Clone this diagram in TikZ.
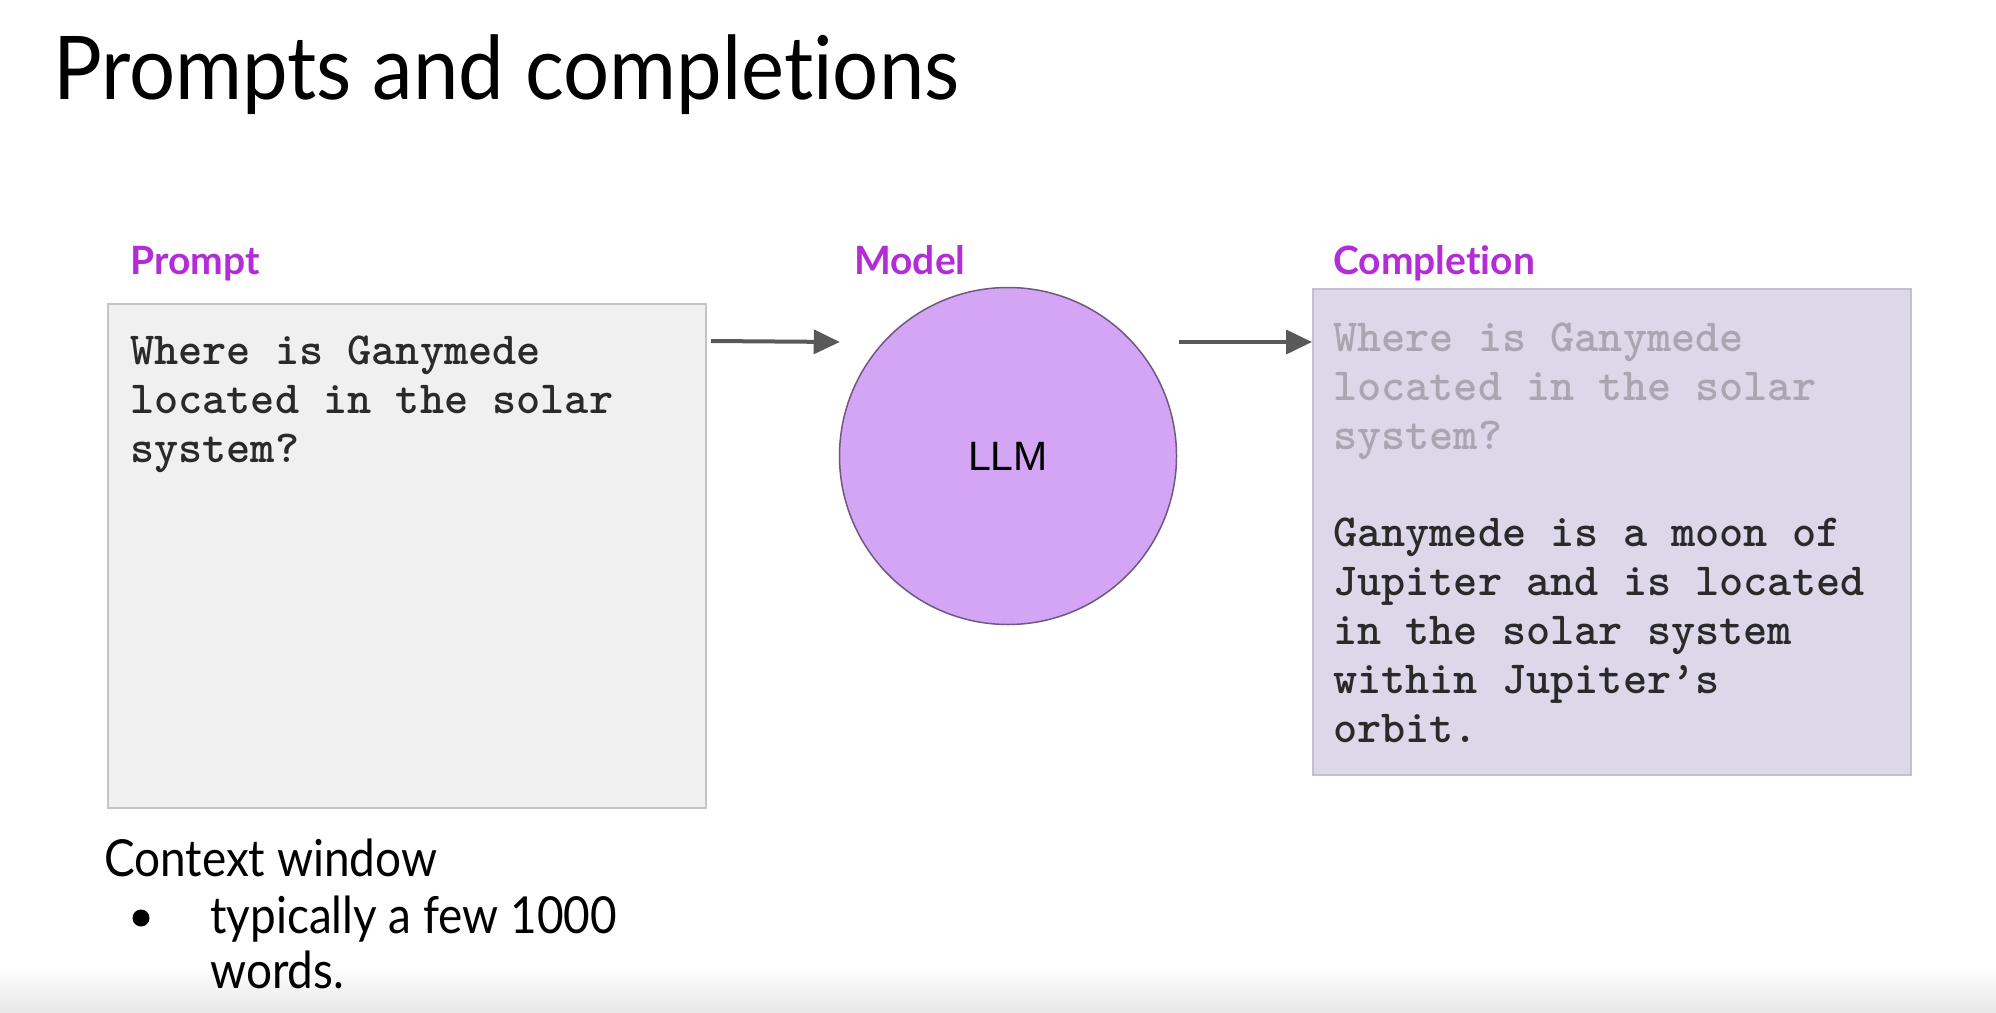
\documentclass[tikz,border=0pt]{standalone}
\usepackage{fontspec}
\setmainfont{Lato}[RawFeature=-liga]
\newfontfamily\titlefont{Lato}[FakeStretch=0.925,RawFeature=-liga]
\newfontfamily\bodyfont{Lato}[FakeStretch=0.9,RawFeature=-liga]
\newfontfamily\armono{Liberation Sans}
\usetikzlibrary{arrows.meta,calc}
\definecolor{labelc}{HTML}{B22DD6}
\definecolor{pfill}{HTML}{F0F0F0}
\definecolor{pdraw}{HTML}{C4C4C4}
\definecolor{cfill}{HTML}{DCD8EA}
\definecolor{cdraw}{HTML}{C2BFCF}
\definecolor{llmfill}{HTML}{D4A5F4}
\definecolor{llmdraw}{HTML}{6E5A80}
\definecolor{arrc}{HTML}{595959}
\definecolor{greytxt}{HTML}{A9A6B2}
\definecolor{codetxt}{HTML}{2A2A2A}
\tikzset{
  lbl/.style={anchor=base west, inner sep=0pt, text=labelc, font=\fontsize{39}{48}\selectfont\bfseries},
  codeline/.style={anchor=base west, inner sep=0pt, text=codetxt, font=\fontsize{46}{49}\selectfont\ttfamily\bfseries},
  greyline/.style={codeline, text=greytxt},
  bodytxt/.style={anchor=base west, inner sep=0pt, text=black, font=\bodyfont\fontsize{51}{60}\selectfont},
  arr/.style={draw=arrc, line width=4pt, -{Triangle[length=26pt,width=24pt]}},
  panel/.style={rectangle, inner sep=0pt, line width=2pt}
}
\begin{document}
\begin{tikzpicture}[x=1pt,y=-1pt]
\useasboundingbox (0,0) rectangle (1996,1012);
\fill[white] (0,0) rectangle (1996,1012);
\shade[top color=white, bottom color=black!9] (0,965) rectangle (1996,1012);
% title
\node[anchor=base west, inner sep=0pt, font=\titlefont\fontsize{88}{100}\selectfont] (title) at (53,99) {Prompts and completions};
% labels
\node[lbl] (lprompt) at (130,274) {Prompt};
\node[lbl] (lmodel) at (854,274) {Model};
\node[lbl] (lcomp) at (1333,274) {Completion};
% prompt box
\node[panel, fill=pfill, draw=pdraw, minimum width=598pt, minimum height=504pt] (pbox) at (407,556) {};
\node[codeline] (p1) at (130,364) {Where is Ganymede};
\node[codeline] (p2) at (130,413) {located in the solar};
\node[codeline] (p3) at (130,462) {system?};
% model
\node[circle, fill=llmfill, draw=llmdraw, line width=1.5pt, minimum size=337pt, inner sep=0pt,
      font=\armono\fontsize{41}{48}\selectfont] (llm) at (1008,456) {LLM};
% completion box
\node[panel, fill=cfill, draw=cdraw, minimum width=598pt, minimum height=486pt] (cbox) at (1612,532) {};
\node[greyline] (c1) at (1333,351) {Where is Ganymede};
\node[greyline] (c2) at (1333,400) {located in the solar};
\node[greyline] (c3) at (1333,449) {system?};
\node[codeline] (c4) at (1333,546) {Ganymede is a moon of};
\node[codeline] (c5) at (1333,595) {Jupiter and is located};
\node[codeline] (c6) at (1333,644) {in the solar system};
\node[codeline] (c7) at (1333,693) {within Jupiter’s};
\node[codeline] (c8) at (1333,742) {orbit.};
% arrows
\coordinate (a1s) at ($(pbox.north east)+(4,38)$);
\coordinate (a1e) at ($(llm.west)+(1,-114)$);
\coordinate (a2s) at ($(llm.east)+(2,-114)$);
\draw[arr] (a1s) -- (a1e);
\draw[arr] (a2s) -- (a2s -| cbox.west);
% context window
\node[bodytxt] (ctx) at (104,876) {Context window};
\node[circle, fill=black, inner sep=0pt, minimum size=17pt] (bullet) at (141,918) {};
\node[bodytxt] (b1) at (210,933) {typically a few 1000};
\node[bodytxt] (b2) at (210,988) {words.};
\end{tikzpicture}
\end{document}
